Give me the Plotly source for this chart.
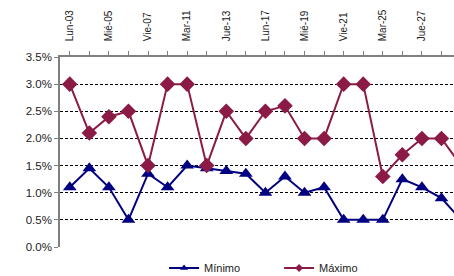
import plotly.graph_objects as go

categories = ["Lun-03", "Mar-04", "Mié-05", "Jue-06", "Vie-07", "Lun-10", "Mar-11",
              "Mié-12", "Jue-13", "Vie-14", "Lun-17", "Mar-18", "Mié-19", "Jue-20",
              "Vie-21", "Lun-24", "Mar-25", "Mié-26", "Jue-27", "Vie-28", "Lun-31"]
minimo = [1.1, 1.45, 1.1, 0.5, 1.35, 1.1, 1.5, 1.45, 1.4, 1.35, 1.0, 1.3, 1.0, 1.1,
          0.5, 0.5, 0.5, 1.25, 1.1, 0.9, 0.5]
maximo = [3.0, 2.1, 2.4, 2.5, 1.5, 3.0, 3.0, 1.5, 2.5, 2.0, 2.5, 2.6, 2.0, 2.0,
          3.0, 3.0, 1.3, 1.7, 2.0, 2.0, 1.5]
tick_text = [c if i % 2 == 0 else "" for i, c in enumerate(categories)]

NAVY = "#000080"
MAROON = "#8B1A47"
FONT = "Liberation Sans, Arial, sans-serif"

xs = list(range(len(categories)))
fig = go.Figure()
fig.add_trace(go.Scatter(
    x=xs, y=[v / 100 for v in minimo], name="Mínimo", showlegend=False,
    mode="lines+markers", line=dict(color=NAVY, width=2),
    marker=dict(symbol="triangle-up", size=12, color=NAVY)))
fig.add_trace(go.Scatter(
    x=xs, y=[v / 100 for v in maximo], name="Máximo", showlegend=False,
    mode="lines+markers", line=dict(color=MAROON, width=2),
    marker=dict(symbol="diamond", size=12, color=MAROON)))
# legend-only entries with small markers
fig.add_trace(go.Scatter(
    x=[None], y=[None], name="Mínimo", mode="lines+markers",
    line=dict(color=NAVY, width=2), marker=dict(symbol="triangle-up", size=7, color=NAVY)))
fig.add_trace(go.Scatter(
    x=[None], y=[None], name="Máximo", mode="lines+markers",
    line=dict(color=MAROON, width=2), marker=dict(symbol="diamond", size=6, color=MAROON)))

fig.update_layout(
    width=454, height=276,
    margin=dict(l=60, r=0, t=57, b=29, autoexpand=False),
    paper_bgcolor="white", plot_bgcolor="white",
    font=dict(family=FONT, size=11, color="#222222"),
    showlegend=True,
    legend=dict(orientation="h", x=0.556, xanchor="center",
                yref="container", y=0.029, yanchor="middle",
                font=dict(size=11, color="#222222"), itemwidth=30,
                entrywidth=70, entrywidthmode="pixels",
                bgcolor="rgba(0,0,0,0)"),
)
fig.update_xaxes(
    side="top", tickmode="array", tickvals=xs,
    ticktext=tick_text, tickangle=-90, range=[-0.5, 19.64], automargin=False,
    showline=True, linecolor="#808080", linewidth=1.5,
    ticks="outside", ticklen=4, tickcolor="#808080", ticklabelstandoff=8,
    showgrid=False, zeroline=False, tickfont=dict(size=10))
fig.update_yaxes(
    range=[0, 0.035], dtick=0.005, tickformat=".1%", automargin=False,
    showline=True, linecolor="#808080", linewidth=1.5,
    ticks="outside", ticklen=4, tickcolor="#808080",
    showgrid=True, gridcolor="#000000", gridwidth=1, griddash="3px,2px",
    zeroline=False, tickfont=dict(size=11.5))

fig.write_html("out.html", config={"displayModeBar": False},
               post_script="document.body.style.margin='0';document.body.style.overflow='hidden';")
